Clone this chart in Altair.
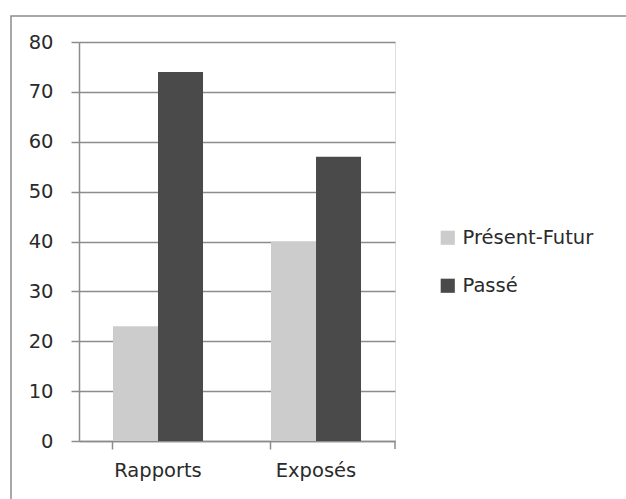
import altair as alt
import pandas as pd

categories = ["Rapports", "Exposés"]
series = ["Présent-Futur", "Passé"]
present_futur = [23, 40]
passe = [74, 57]
y_ticks = [0, 10, 20, 30, 40, 50, 60, 70, 80]
colors = ["#cccccc", "#4a4a4a"]

rows = []
for i, c in enumerate(categories):
    rows.append({"cat": c, "serie": series[0], "val": present_futur[i]})
    rows.append({"cat": c, "serie": series[1], "val": passe[i]})
df = pd.DataFrame(rows)

FONT = "DejaVu Sans"
FS = 19.5

bars = alt.Chart(df).mark_bar(size=45).encode(
    x=alt.X("cat:N", sort=categories, title=None,
            scale=alt.Scale(paddingInner=0.43, paddingOuter=0.215),
            axis=alt.Axis(labelAngle=0, domainColor="#8c8c8c", tickColor="#8c8c8c",
                          tickSize=8, bandPosition=0, labelPadding=12,
                          labelFontSize=FS, labelColor="#2a2a2a", labelFont=FONT,
                          domainWidth=1.5, tickWidth=1.5, grid=False)),
    xOffset=alt.XOffset("serie:N", sort=series),
    y=alt.Y("val:Q", title=None,
            scale=alt.Scale(domain=[0, 80], nice=False),
            axis=alt.Axis(values=y_ticks, grid=True, gridColor="#8c8c8c", gridWidth=1.5,
                          domainColor="#8c8c8c", domainWidth=1.5, tickColor="#8c8c8c",
                          tickWidth=1.5, tickSize=8, labelPadding=18, labelFontSize=FS,
                          labelColor="#2a2a2a", labelFont=FONT)),
    color=alt.Color("serie:N", sort=series, title=None,
                    scale=alt.Scale(domain=series, range=colors),
                    legend=alt.Legend(orient="none", legendX=359, legendY=186,
                                      symbolType="square", symbolSize=200,
                                      symbolStrokeWidth=0, labelFontSize=FS,
                                      labelFont=FONT, labelColor="#2a2a2a",
                                      rowPadding=27, labelOffset=5)),
)

frame = alt.Chart(pd.DataFrame({"a": [0]})).mark_rect(
    fill=None, stroke="#8c8c8c", strokeWidth=1.5
).encode(x=alt.value(-68), x2=alt.value(560), y=alt.value(-26), y2=alt.value(480))

end_tick = alt.Chart(pd.DataFrame({"a": [0]})).mark_rule(
    color="#8c8c8c", strokeWidth=1.5
).encode(x=alt.value(316), y=alt.value(399), y2=alt.value(407))

chart = alt.layer(frame, bars, end_tick).properties(
    width=316, height=399,
    autosize=alt.AutoSizeParams(type="none"),
    padding={"left": 79, "top": 42, "right": 231, "bottom": 58},
).configure_view(stroke=None).configure(background="white")

chart.save("out.html", embed_options={"renderer": "svg", "actions": False})
